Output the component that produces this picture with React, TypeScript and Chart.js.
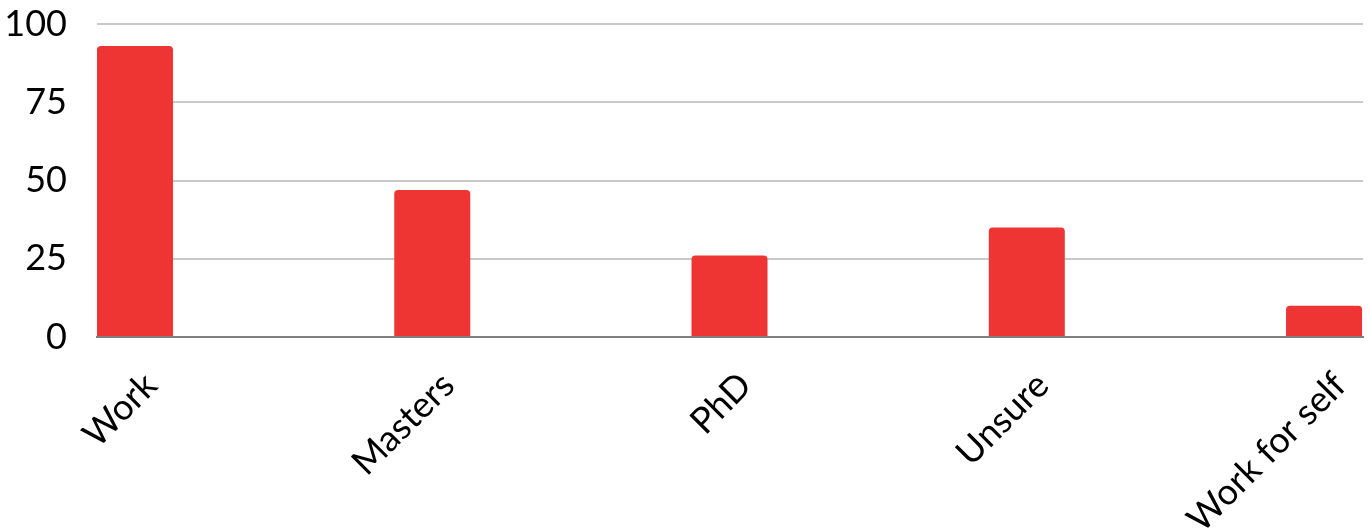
import React, { useEffect, useRef } from "react";
import { Chart, registerables } from "chart.js";

Chart.register(...registerables);

const categories = ["Work", "Masters", "PhD", "Unsure", "Work for self"];
const values = [93, 47, 26, 35, 10];
const yTicks = [0, 25, 50, 75, 100];

const FONT = "Lato";
const FONT_SIZE = 36;

export default function App() {
  const ref = useRef<HTMLCanvasElement | null>(null);

  useEffect(() => {
    if (!ref.current) return;
    const chart = new Chart(ref.current, {
      type: "bar",
      data: {
        datasets: [
          {
            data: values.map((v, i) => ({ x: i, y: v })),
            backgroundColor: "#EF3434",
            borderRadius: { topLeft: 4, topRight: 4, bottomLeft: 0, bottomRight: 0 },
            borderSkipped: "start",
            barPercentage: 0.2557,
            categoryPercentage: 1,
          },
        ],
      },
      options: {
        animation: false,
        responsive: true,
        maintainAspectRatio: false,
        devicePixelRatio: 1,
        layout: { padding: { top: 24, right: 5, left: 0, bottom: 0 } },
        plugins: { legend: { display: false }, tooltip: { enabled: false } },
        scales: {
          x: {
            type: "linear",
            offset: false,
            min: -0.1278,
            max: 4.131,
            z: 1,
            grid: { display: false, drawTicks: false, offset: false },
            border: { display: true, color: "#7f7f7f", width: 2 },
            afterBuildTicks: (scale: any) => {
              scale.ticks = categories.map((_, i) => ({ value: i }));
            },
            afterFit: (scale: any) => {
              scale.height = 529 - 337;
              scale.paddingLeft = 0;
              scale.paddingRight = 0;
            },
            ticks: {
              autoSkip: false,
              maxRotation: 45,
              minRotation: 45,
              padding: 27,
              labelOffset: 16,
              color: "#000000",
              font: { family: FONT, size: FONT_SIZE },
              callback: (v: any) => categories[v as number] ?? "",
            },
          },
          y: {
            min: 0,
            max: 100,
            afterBuildTicks: (scale: any) => {
              scale.ticks = yTicks.map((v) => ({ value: v }));
            },
            afterFit: (scale: any) => {
              scale.width = 97;
              scale.paddingTop = 0;
              scale.paddingBottom = 0;
            },
            grid: {
              drawTicks: false,
              color: "#c9c9c9",
              lineWidth: 2,
            },
            border: { display: false },
            ticks: {
              padding: 30,
              color: "#000000",
              font: { family: FONT, size: FONT_SIZE },
            },
          },
        },
      },
    });
    return () => chart.destroy();
  }, []);

  return (
    <div style={{ position: "fixed", left: 0, top: 0, width: 1368, height: 529, background: "#fff" }}>
      <canvas ref={ref} />
    </div>
  );
}
